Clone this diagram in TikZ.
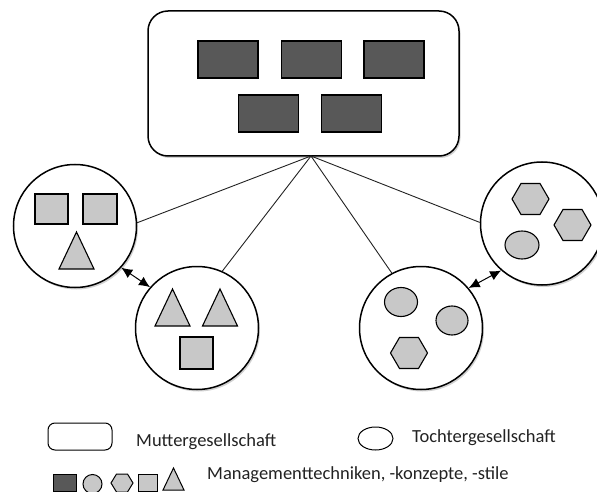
\documentclass[tikz,border=0pt]{standalone}
\usepackage{fontspec}
\setmainfont{Carlito}
\usetikzlibrary{shapes.geometric,arrows.meta,shadows}

\definecolor{tooldark}{HTML}{585858}
\definecolor{toollight}{HTML}{C8C8C8}
\definecolor{inkgray}{HTML}{222222}

\tikzset{
  softshadow/.style={drop shadow={shadow xshift=1.5pt, shadow yshift=-2pt, opacity=0.18, fill=black}},
  parentbox/.style={draw=black, line width=1.5pt, fill=white, rounded corners=20pt,
    minimum width=311pt, minimum height=145pt, inner sep=0pt, softshadow},
  subco/.style={circle, draw=black, line width=1.5pt, fill=white,
    minimum size=123pt, inner sep=0pt, softshadow},
  tooledge/.style={draw=black, line width=1.1pt},
  darkrect/.style={rectangle, tooledge, fill=tooldark, minimum width=60pt, minimum height=37pt, inner sep=0pt},
  litesq/.style={rectangle, tooledge, fill=toollight, minimum width=33pt, minimum height=30pt, inner sep=0pt},
  liteell/.style={ellipse, tooledge, fill=toollight, minimum width=33pt, minimum height=29pt, inner sep=0pt},
  link/.style={draw=inkgray, line width=0.9pt},
  swap/.style={draw=black, line width=1pt, {Latex[length=11pt,width=10pt]}-{Latex[length=11pt,width=10pt]}},
  legendtext/.style={text=inkgray, font=\fontsize{18.5}{20}\selectfont, inner sep=0pt, anchor=base west},
  hexa/.pic={\draw[tooledge, fill=toollight] (-18.5,0) -- (-9.5,-15.5) -- (9.5,-15.5) -- (18.5,0) -- (9.5,15.5) -- (-9.5,15.5) -- cycle;},
  tria/.pic={\draw[tooledge, fill=toollight] (-17.5,18.5) -- (17.5,18.5) -- (0,-18.5) -- cycle;}
}

\begin{document}
\begin{tikzpicture}[x=1pt, y=-1pt]
\useasboundingbox (0,0) rectangle (597,492);
\clip (0,0) rectangle (597,492);

% parent company with its five techniques
\node[parentbox] (mg) at (303.5,83.5) {};
\node[darkrect] (m1) at (228,59.5) {};
\node[darkrect] (m2) at (311.5,59.5) {};
\node[darkrect] (m3) at (394,59.5) {};
\node[darkrect] (m4) at (268.5,113.5) {};
\node[darkrect] (m5) at (351.5,113.5) {};
\coordinate (apex) at (311,156);

% subsidiaries
\node[subco] (t1) at (75,226) {};
\node[subco] (t2) at (197,328) {};
\node[subco] (t3) at (421,328) {};
\node[subco] (t4) at (542,223.5) {};

% connectors from the parent company
\draw[link] (apex) -- (t1.3);
\draw[link] (apex) -- (t2.66);
\draw[link] (apex) -- (t3.118);
\draw[link] (apex) -- (t4.179);

% exchange between subsidiaries
\draw[swap] (t1.-42) -- (t2.139);
\draw[swap] (t3.40) -- (t4.229);

% subsidiary 1
\node[litesq] (s11) at (51.5,209) {};
\node[litesq, minimum width=34pt] (s12) at (100,209) {};
\pic at (76.5,250.5) {tria};

% subsidiary 2
\pic at (172.5,307.5) {tria};
\pic at (220,307.5) {tria};
\node[litesq, minimum height=32pt] (s21) at (196.5,353) {};

% subsidiary 3
\node[liteell] (e31) at (401,302) {};
\node[liteell, minimum width=32pt] (e32) at (452,320.5) {};
\pic at (409,353) {hexa};

% subsidiary 4
\pic at (530.5,199) {hexa};
\pic at (572.5,225) {hexa};
\node[liteell, minimum width=34pt, minimum height=28pt] (e41) at (522,245) {};

% legend
\node[draw=black, line width=1pt, rounded corners=7pt, minimum width=64pt, minimum height=27pt, inner sep=0pt] (lgm) at (80,436.5) {};
\node[legendtext] (lgmt) at (136,446) {Muttergesellschaft};
\node[ellipse, draw=black, line width=1pt, minimum width=35pt, minimum height=23pt, inner sep=0pt] (lgt) at (375.5,438.5) {};
\node[legendtext] (lgtt) at (412,442) {Tochtergesellschaft};

\node[rectangle, tooledge, line width=1pt, fill=tooldark, minimum width=23pt, minimum height=17pt, inner sep=0pt] (lg1) at (64.5,482.5) {};
\node[circle, tooledge, line width=1pt, fill=toollight, minimum size=19pt, inner sep=0pt] (lg2) at (92.5,484) {};
\draw[tooledge, line width=1pt, fill=toollight] (111,483) -- (116.5,474) -- (127.5,474) -- (133,483) -- (127.5,492) -- (116.5,492) -- cycle;
\node[rectangle, tooledge, line width=1pt, fill=toollight, minimum width=19pt, minimum height=17pt, inner sep=0pt] (lg4) at (147.5,482.5) {};
\draw[tooledge, line width=1pt, fill=toollight] (163,490) -- (184,490) -- (173.5,468) -- cycle;
\node[legendtext] (lgx) at (207,479) {Managementtechniken, -konzepte, -stile};
\end{tikzpicture}
\end{document}
